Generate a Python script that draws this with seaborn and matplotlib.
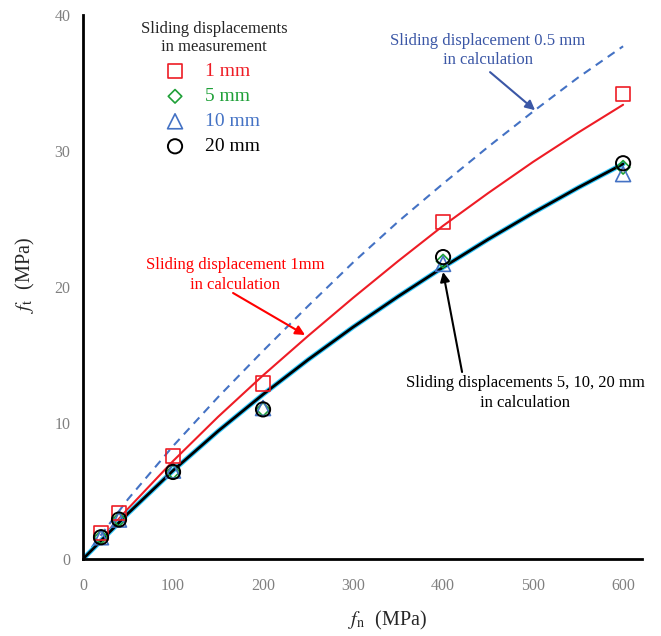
import numpy as np
import pandas as pd
import seaborn as sns
from matplotlib import pyplot as plt

# Measured points (fn in MPa, ft in MPa)
fn_meas = [20, 40, 100, 200, 400, 600]
ft_1mm = [1.9, 3.4, 7.6, 12.9, 24.8, 34.2]
ft_5mm = [1.6, 2.9, 6.4, 11.0, 21.9, 28.8]
ft_10mm = [1.6, 2.9, 6.5, 11.1, 21.7, 28.3]
ft_20mm = [1.6, 2.9, 6.4, 11.0, 22.2, 29.1]

# Calculated curves
fn_calc = [0, 50, 100, 150, 200, 250, 300, 350, 400, 450, 500, 550, 600]
ft_calc_05 = [0, 4.4, 8.3, 11.9, 15.3, 18.6, 21.8, 24.8, 27.6, 30.3, 32.9, 35.4, 37.7]
ft_calc_1 = [0, 3.7, 7.2, 10.45, 13.5, 16.4, 19.2, 21.9, 24.5, 26.9, 29.2, 31.35, 33.4]
ft_calc_big = [0, 3.35, 6.5, 9.4, 12.1, 14.65, 17.05, 19.3, 21.45, 23.5, 25.45, 27.3, 29.05]

legend_labels = ["1 mm", "5 mm", "10 mm", "20 mm"]

sns.set_theme(style="white")
plt.rcParams['font.family'] = ['Liberation Serif', 'DejaVu Serif']
plt.rcParams['mathtext.fontset'] = 'stix'

RED = '#EE1C25'
GREEN = '#1FA038'
BLUE = '#4472C4'
DBLUE = '#3B57A6'

fig = plt.figure(figsize=(6.61, 6.36), dpi=100)
ax = fig.add_axes([83 / 661, 1 - 559 / 636, (642 - 83) / 661, (559 - 15) / 636])

calc = pd.DataFrame({"fn": fn_calc, "c05": ft_calc_05, "c1": ft_calc_1, "cbig": ft_calc_big})

sns.lineplot(data=calc, x="fn", y="c05", ax=ax, color=BLUE, lw=1.5, linestyle=(0, (4, 3)))
sns.lineplot(data=calc, x="fn", y="c1", ax=ax, color=RED, lw=1.5)
sns.lineplot(data=calc, x="fn", y="cbig", ax=ax, color='#33CCFF', lw=3.6)
sns.lineplot(data=calc, x="fn", y="cbig", ax=ax, color='black', lw=2.0)

msize = 105
h2 = ax.scatter(fn_meas, ft_5mm, marker='D', s=msize * 0.45, facecolor='none', edgecolor=GREEN, lw=1.2, zorder=4)
h3 = ax.scatter(fn_meas, ft_10mm, marker='^', s=msize * 1.1, facecolor='none', edgecolor=BLUE, lw=1.2, zorder=5)
h1 = ax.scatter(fn_meas, ft_1mm, marker='s', s=msize, facecolor='none', edgecolor=RED, lw=1.2, zorder=5)
h4 = ax.scatter(fn_meas, ft_20mm, marker='o', s=msize, facecolor='none', edgecolor='black', lw=1.4, zorder=6)

ax.set_xlim(0, 621)
ax.set_ylim(0, 40)
ax.set_xticks([0, 100, 200, 300, 400, 500, 600])
ax.set_yticks([0, 10, 20, 30, 40])
sns.despine(ax=ax)
for s in ['left', 'bottom']:
    ax.spines[s].set_color('black')
    ax.spines[s].set_linewidth(2)
ax.tick_params(axis='x', direction='in', length=4, width=2, colors='black',
               labelcolor='#808080', labelsize=11.5, pad=14)
ax.tick_params(axis='y', direction='out', length=5, width=2, colors='black',
               labelcolor='#808080', labelsize=11.5, pad=4)
ax.set_xlabel(r'$f_\mathrm{n}$  (MPa)', fontsize=14.5, va='center')
ax.set_ylabel(r'$f_\mathrm{t}$  (MPa)', fontsize=14.5, va='center')
ax.xaxis.set_label_coords((388 - 83) / 559, -(620 - 559) / 544)
ax.yaxis.set_label_coords(-(83 - 25) / 559, (559 - 275) / 544)

leg = ax.legend([h1, h2, h3, h4], legend_labels, title="Sliding displacements\nin measurement",
                loc='upper left', bbox_to_anchor=(141 / 661, 1 - 21 / 636), bbox_transform=fig.transFigure,
                frameon=False, fontsize=14, title_fontsize=12, handlelength=3.5, handletextpad=-0.2,
                labelspacing=0.38, borderpad=0, borderaxespad=0, alignment='left',
                labelcolor=[RED, GREEN, BLUE, 'black'])
leg.get_title().set_multialignment('center')
leg.get_title().set_linespacing(1.2)

# annotation texts and arrows
ax.text(450, 37.4, "Sliding displacement 0.5 mm\nin calculation", ha='center', va='center',
        fontsize=12, color=DBLUE, linespacing=1.3)
ax.annotate("", xy=(502.2, 33.0), xytext=(452.2, 35.8),
            arrowprops=dict(arrowstyle='-|>', color=DBLUE, lw=1.5, mutation_scale=14, shrinkA=0, shrinkB=0))
ax.text(169, 20.9, "Sliding displacement 1mm\nin calculation", ha='center', va='center',
        fontsize=12, color='#FF0000', linespacing=1.3)
ax.annotate("", xy=(246.7, 16.47), xytext=(166.7, 19.56),
            arrowprops=dict(arrowstyle='-|>', color='#FF0000', lw=1.5, mutation_scale=14, shrinkA=0, shrinkB=0))
ax.text(491, 12.2, "Sliding displacements 5, 10, 20 mm\nin calculation", ha='center', va='center',
        fontsize=12, color='black', linespacing=1.3)
ax.annotate("", xy=(400, 21.1), xytext=(421.1, 13.75),
            arrowprops=dict(arrowstyle='-|>', color='black', lw=1.5, mutation_scale=14, shrinkA=0, shrinkB=0))

fig.savefig("out.png", dpi=100)
